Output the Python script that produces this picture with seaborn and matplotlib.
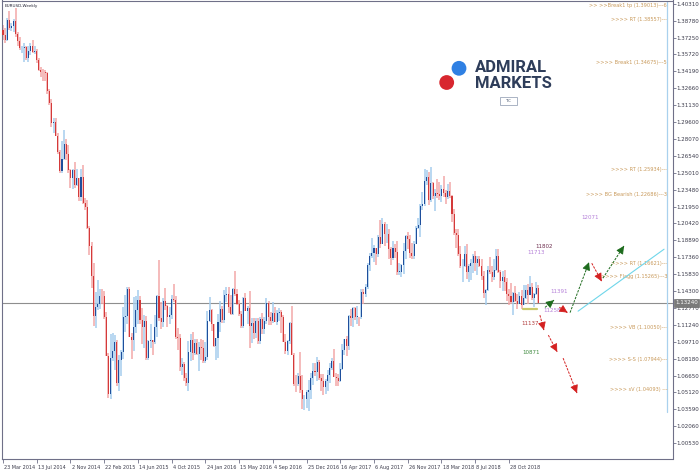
import numpy as np
import pandas as pd
import matplotlib
matplotlib.use("Agg")
import matplotlib.pyplot as plt
import matplotlib.transforms as mtransforms
from matplotlib.patches import Circle, Rectangle
import seaborn as sns

# ---------------- data (weekly EURUSD, week of 23 Mar 2014 onward) ----------------
first_open = 1.3790
closes = [
 1.3751,1.3704,1.3888,1.3813,1.3831,1.3870,1.3755,1.3697,1.3627,1.3634,
 1.3642,1.3540,1.3606,1.3645,1.3595,1.3606,1.3525,1.3429,1.3414,1.3413,
 1.3402,1.3240,1.3132,1.2951,1.2962,1.2835,1.2685,1.2519,1.2628,1.2760,
 1.2670,1.2525,1.2456,1.2526,1.2390,1.2451,1.2284,1.2464,1.2226,1.2190,
 1.2000,1.1842,1.1567,1.1204,1.1290,1.1317,1.1387,1.1381,1.1196,1.0844,
 1.0497,1.0821,1.0891,1.0970,1.0600,1.0806,1.0874,1.1198,1.1200,1.1447,
 1.1016,1.0988,1.1109,1.1262,1.1349,1.1166,1.1106,1.1163,1.0827,1.0982,
 1.0983,1.0970,1.1105,1.1386,1.1183,1.1146,1.1339,1.1299,1.1193,1.1209,
 1.1358,1.1348,1.1017,1.1005,1.0741,1.0771,1.0647,1.0594,1.0883,1.0988,
 1.0867,1.0964,1.0860,1.0928,1.0916,1.0795,1.0831,1.1156,1.1255,1.1130,
 1.0933,1.1002,1.1154,1.1267,1.1167,1.1393,1.1400,1.1283,1.1224,1.1453,
 1.1405,1.1309,1.1222,1.1115,1.1368,1.1253,1.1278,1.1115,1.1137,1.1050,
 1.1162,1.0974,1.1174,1.1086,1.1161,1.1324,1.1197,1.1156,1.1233,1.1153,
 1.1229,1.1240,1.1199,1.0972,1.0887,1.0982,1.1142,1.0850,1.0588,1.0587,
 1.0662,1.0534,1.0449,1.0454,1.0517,1.0531,1.0643,1.0702,1.0698,1.0785,
 1.0642,1.0615,1.0562,1.0620,1.0671,1.0734,1.0797,1.0652,1.0640,1.0615,
 1.0726,1.0896,1.0998,1.0933,1.1206,1.1183,1.1280,1.1196,1.1197,1.1195,
 1.1425,1.1399,1.1470,1.1664,1.1751,1.1774,1.1821,1.1761,1.1923,1.1859,
 1.2036,1.1945,1.1951,1.1815,1.1731,1.1822,1.1785,1.1607,1.1607,1.1665,
 1.1793,1.1931,1.1897,1.1775,1.1748,1.1859,1.2005,1.2030,1.2200,1.2220,
 1.2427,1.2461,1.2254,1.2405,1.2295,1.2317,1.2307,1.2288,1.2354,1.2322,
 1.2282,1.2332,1.2288,1.2130,1.1960,1.1940,1.1770,1.1655,1.1658,1.1768,
 1.1605,1.1655,1.1684,1.1746,1.1685,1.1719,1.1657,1.1568,1.1410,1.1439,
 1.1622,1.1600,1.1553,1.1625,1.1747,1.1604,1.1524,1.1560,1.1510,1.1403,
 1.1387,1.1335,1.1415,1.1339,1.1314,1.1386,1.1306,1.1370,1.1440,1.1397,
 1.1468,1.1364,1.1407,1.1455,1.1324]
highs = [
 1.3836,1.3811,1.3906,1.3966,1.3855,1.3889,1.3993,1.3774,1.3733,1.3651,
 1.3677,1.3651,1.3644,1.3679,1.3700,1.3649,1.3617,1.3536,1.3454,1.3444,
 1.3434,1.3415,1.3258,1.3164,1.2996,1.3000,1.2858,1.2707,1.2791,1.2887,
 1.2810,1.2749,1.2536,1.2532,1.2600,1.2531,1.2457,1.2532,1.2570,1.2273,
 1.2250,1.2023,1.1870,1.1680,1.1423,1.1534,1.1452,1.1450,1.1428,1.1243,
 1.0872,1.1043,1.1052,1.1033,1.0987,1.0849,1.0900,1.1290,1.1391,1.1467,
 1.1467,1.1053,1.1380,1.1385,1.1436,1.1387,1.1278,1.1216,1.1202,1.0986,
 1.1128,1.0988,1.1214,1.1398,1.1714,1.1331,1.1369,1.1460,1.1300,1.1286,
 1.1394,1.1495,1.1386,1.1098,1.1043,1.0826,1.0790,1.0690,1.0981,1.1043,
 1.1060,1.0993,1.0994,1.0971,1.0993,1.0986,1.0967,1.1246,1.1376,1.1265,
 1.1131,1.1008,1.1218,1.1342,1.1296,1.1438,1.1465,1.1464,1.1398,1.1462,
 1.1616,1.1446,1.1349,1.1246,1.1375,1.1416,1.1298,1.1427,1.1186,1.1185,
 1.1185,1.1185,1.1198,1.1234,1.1191,1.1366,1.1343,1.1238,1.1327,1.1284,
 1.1257,1.1278,1.1258,1.1215,1.1041,1.0988,1.1146,1.1299,1.0870,1.0667,
 1.0690,1.0874,1.0669,1.0488,1.0533,1.0622,1.0684,1.0775,1.0775,1.0829,
 1.0804,1.0679,1.0678,1.0635,1.0714,1.0783,1.0822,1.0906,1.0692,1.0678,
 1.0777,1.0948,1.0998,1.1023,1.1210,1.1268,1.1284,1.1285,1.1296,1.1199,
 1.1445,1.1446,1.1490,1.1682,1.1777,1.1910,1.1845,1.1822,1.1940,1.2070,
 1.2092,1.2059,1.2037,1.1990,1.1832,1.1880,1.1860,1.1880,1.1687,1.1673,
 1.1862,1.1936,1.1961,1.1939,1.1862,1.1880,1.2023,1.2089,1.2219,1.2323,
 1.2537,1.2523,1.2507,1.2555,1.2415,1.2354,1.2446,1.2413,1.2388,1.2476,
 1.2345,1.2396,1.2414,1.2300,1.2170,1.1996,1.1995,1.1834,1.1720,1.1840,
 1.1853,1.1675,1.1720,1.1764,1.1791,1.1745,1.1750,1.1720,1.1614,1.1445,
 1.1660,1.1734,1.1653,1.1722,1.1815,1.1815,1.1625,1.1609,1.1622,1.1547,
 1.1450,1.1500,1.1421,1.1472,1.1401,1.1419,1.1442,1.1486,1.1484,1.1497,
 1.1570,1.1500,1.1413,1.1514,1.1488]
lows = [
 1.3705,1.3672,1.3697,1.3792,1.3786,1.3771,1.3731,1.3648,1.3615,1.3586,
 1.3502,1.3524,1.3505,1.3565,1.3589,1.3573,1.3491,1.3422,1.3366,1.3333,
 1.3332,1.3218,1.3116,1.2919,1.2860,1.2834,1.2667,1.2500,1.2502,1.2613,
 1.2614,1.2495,1.2359,1.2358,1.2359,1.2385,1.2247,1.2246,1.2219,1.2162,
 1.1992,1.1753,1.1460,1.1114,1.1098,1.1261,1.1270,1.1315,1.1177,1.0839,
 1.0462,1.0457,1.0800,1.0712,1.0568,1.0521,1.0661,1.0818,1.1064,1.1130,
 1.1016,1.0819,1.0887,1.1049,1.1134,1.1133,1.0955,1.0916,1.0808,1.0808,
 1.0916,1.0848,1.0953,1.1016,1.1157,1.1087,1.1107,1.1255,1.1104,1.1136,
 1.1174,1.1329,1.1000,1.0896,1.0705,1.0674,1.0616,1.0567,1.0524,1.0795,
 1.0805,1.0848,1.0849,1.0711,1.0804,1.0778,1.0775,1.0806,1.1154,1.1067,
 1.0925,1.0810,1.0823,1.1058,1.1143,1.1144,1.1327,1.1233,1.1217,1.1217,
 1.1384,1.1304,1.1200,1.1097,1.1098,1.1246,1.1131,1.0912,1.0957,1.1000,
 1.1002,1.0952,1.0952,1.1045,1.1044,1.1132,1.1123,1.1123,1.1143,1.1150,
 1.1122,1.1160,1.1048,1.0966,1.0858,1.0851,1.0951,1.0850,1.0569,1.0518,
 1.0567,1.0506,1.0366,1.0352,1.0374,1.0340,1.0454,1.0576,1.0660,1.0617,
 1.0621,1.0521,1.0493,1.0494,1.0524,1.0600,1.0715,1.0650,1.0569,1.0570,
 1.0603,1.0720,1.0851,1.0839,1.0899,1.1110,1.1109,1.1168,1.1132,1.1118,
 1.1175,1.1313,1.1372,1.1446,1.1612,1.1729,1.1689,1.1662,1.1734,1.1823,
 1.1857,1.1838,1.1862,1.1717,1.1669,1.1710,1.1730,1.1574,1.1574,1.1554,
 1.1589,1.1718,1.1811,1.1729,1.1718,1.1719,1.1853,1.1996,1.1915,1.2164,
 1.2198,1.2387,1.2205,1.2240,1.2260,1.2154,1.2273,1.2258,1.2240,1.2280,
 1.2215,1.2260,1.2276,1.2055,1.1937,1.1823,1.1750,1.1640,1.1510,1.1645,
 1.1540,1.1508,1.1528,1.1591,1.1613,1.1576,1.1646,1.1530,1.1365,1.1301,
 1.1428,1.1586,1.1510,1.1526,1.1613,1.1595,1.1461,1.1432,1.1433,1.1336,
 1.1302,1.1316,1.1216,1.1334,1.1267,1.1310,1.1269,1.1301,1.1354,1.1309,
 1.1397,1.1353,1.1289,1.1390,1.1322]

xtick_weeks = [0, 16, 32, 48, 64, 80, 96, 112, 128, 144, 160, 176, 192, 208, 224, 240]
xtick_labels = ["23 Mar 2014", "13 Jul 2014", "2 Nov 2014", "22 Feb 2015", "14 Jun 2015",
                "4 Oct 2015", "24 Jan 2016", "15 May 2016", "4 Sep 2016", "25 Dec 2016",
                "16 Apr 2017", "6 Aug 2017", "26 Nov 2017", "18 Mar 2018", "8 Jul 2018",
                "28 Oct 2018"]
ytick_values = [1.40310, 1.38780, 1.37250, 1.35720, 1.34190, 1.32660, 1.31130, 1.29600,
                1.28070, 1.26540, 1.25010, 1.23480, 1.21950, 1.20420, 1.18890, 1.17360,
                1.15830, 1.14300, 1.12770, 1.11240, 1.09710, 1.08180, 1.06650, 1.05120,
                1.03590, 1.02060, 1.00530]

# level labels on the right side
level_texts = [">> >>Break1 tp (1.39013)---6", ">>>> RT (1.38557)---", ">>>> Break1 (1.34675)---5",
               ">>>> RT (1.25934)---", ">>>> BG Bearish (1.22686)---3", ">>>> RT (1.16621)---",
               ">>>> Flagg (1.15265)---3", ">>>> VB (1.10050)---", ">>>> S-S (1.07944)---",
               ">>>> sV (1.04093) ---"]
level_prices = [1.4015, 1.3885, 1.3497, 1.2532, 1.2306, 1.1682, 1.1558, 1.1104, 1.0815, 1.0535]

# projection numbers
num_texts = ["11802", "11713", "11391", "11258", "11137", "10871", "12071"]
num_x = [256.9, 252.9, 264.0, 260.7, 250.0, 250.5, 278.7]
num_y = [1.1830, 1.1775, 1.1423, 1.1257, 1.1137, 1.0878, 1.2092]
num_colors = ["#6e2f4f", "#b47fd8", "#b47fd8", "#b47fd8", "#b03a3a", "#3f8a3f", "#b47fd8"]

# projection arrows (week index / price)
arr_x0 = [257.1, 263.9, 269.0, 279.3, 284.6, 254.7, 258.7, 265.7]
arr_y0 = [1.1282, 1.1284, 1.1235, 1.1682, 1.1547, 1.1212, 1.1031, 1.0823]
arr_x1 = [261.4, 267.8, 278.0, 284.0, 294.6, 256.6, 262.9, 272.3]
arr_y1 = [1.1348, 1.1235, 1.1691, 1.1519, 1.1839, 1.1077, 1.0880, 1.0507]
arr_colors = ["#1d6b1d", "#d42020", "#1d6b1d", "#d42020", "#1d6b1d", "#d42020", "#d42020", "#d42020"]
cyan_x = [272.8, 313.6]
cyan_y = [1.1248, 1.1809]
support_x = [246.7, 253.3]
support_y = [1.1266, 1.1266]

# ---------------- build frame ----------------
df = pd.DataFrame({"close": closes, "high": highs, "low": lows})
df["week"] = np.arange(len(df))
df["open"] = [first_open] + closes[:-1]
df["high"] = df[["high", "open", "close"]].max(axis=1)
df["low"] = df[["low", "open", "close"]].min(axis=1)
df["bull"] = df["close"] >= df["open"]

sns.set_theme(style="white")
plt.rcParams["font.family"] = ["DejaVu Sans"]

fig = plt.figure(figsize=(7.0, 4.71), dpi=100)
fig.patch.set_facecolor("white")
ax = fig.add_axes([2/700, 1-459/471, (672.5-2)/700, (459-0.5)/471])
ax.set_facecolor("white")
frame_col = "#6f7088"
for s in ax.spines.values():
    s.set_color(frame_col)
    s.set_linewidth(0.8)

wick_col = np.where(df["bull"], "#a6cdee", "#f3a8a8")
body_col = np.where(df["bull"], "#1f4f9c", "#d43a3a")
ax.vlines(df["week"], df["low"], df["high"], colors=wick_col, linewidth=1.1, zorder=2)
body_h = (df["close"] - df["open"]).abs().clip(lower=0.0004)
ax.bar(df["week"], body_h, bottom=df[["open", "close"]].min(axis=1), width=0.5,
       color=body_col, linewidth=0, zorder=3)

last = closes[-1]
ax.axhline(last, color="#8e8e8e", linewidth=0.8, zorder=1)

ax.set_xlim(-0.47, 317.6)
ax.set_ylim(0.9910, 1.4060)

# y axis on the right
ax.yaxis.tick_right()
ax.set_yticks(ytick_values)
ax.set_yticklabels([f"{v:.5f}" for v in ytick_values])
ax.tick_params(axis="y", direction="out", length=2, width=0.6, colors=frame_col,
               labelsize=4.0, labelcolor="#3a3a4a", pad=0.6, right=True, left=False)
ax.set_xticks(xtick_weeks)
ax.set_xticklabels(xtick_labels)
ax.tick_params(axis="x", direction="out", length=3, width=0.6, colors=frame_col,
               labelsize=3.5, labelcolor="#3a3a4a", pad=1.2, bottom=True)
offset = mtransforms.ScaledTranslation(1.2/100, 0, fig.dpi_scale_trans)
for lab in ax.get_xticklabels():
    lab.set_horizontalalignment("left")
    lab.set_transform(lab.get_transform() + offset)

# light blue vertical marker line
ax.plot([315.0, 315.0], [1.4060, 1.0335], color="#a9d1ee", linewidth=0.9, zorder=1)

# current price box
trans_y = mtransforms.blended_transform_factory(ax.transAxes, ax.transData)
ax.text(1.004, last, f"{last:.5f}", transform=trans_y, fontsize=4.0, color="white",
        va="center", ha="left", zorder=10, clip_on=False,
        bbox=dict(boxstyle="square,pad=0.25", facecolor="#7a7a7a", edgecolor="#5a5a5a", linewidth=0.4))

# title text
ax.text(0.004, 0.992, "EURUSD,Weekly", transform=ax.transAxes, fontsize=3.0,
        color="#222233", va="top", ha="left")

# level texts
for t, p in zip(level_texts, level_prices):
    ax.text(315.0, p, t, fontsize=3.6, color="#c8995a", ha="right", va="center")

# projection numbers
for t, x, y, c in zip(num_texts, num_x, num_y, num_colors):
    ax.text(x, y, t, fontsize=4.0, color=c, ha="center", va="center")

# support line
ax.plot(support_x, support_y, color="#c9c96a", linewidth=1.6, zorder=4)
# cyan line
ax.plot(cyan_x, cyan_y, color="#6fd6ea", linewidth=0.8, zorder=4)

# dashed arrows
for x0, y0, x1, y1, c in zip(arr_x0, arr_y0, arr_x1, arr_y1, arr_colors):
    ax.plot([x0, x1], [y0, y1], color=c, linewidth=0.7, linestyle=(0, (2.5, 1.2)), zorder=5)
    ax.annotate("", xy=(x1, y1), xytext=(x1 - 0.08*(x1-x0), y1 - 0.08*(y1-y0)),
                arrowprops=dict(arrowstyle="-|>,head_length=0.4,head_width=0.2",
                                color=c, lw=0.6, shrinkA=0, shrinkB=0), zorder=6)

# logo
fig.add_artist(Circle((459/100, (471-68.3)/100), 0.074, transform=fig.dpi_scale_trans,
                      facecolor="#2f80e3", edgecolor="none"))
fig.add_artist(Circle((446.7/100, (471-82.5)/100), 0.074, transform=fig.dpi_scale_trans,
                      facecolor="#d8272f", edgecolor="none"))
fig.text(475/700, 1-67.5/471, "ADMIRAL", fontsize=12, fontweight="bold", color="#2e3d5a",
         ha="left", va="center", family=["Roboto", "DejaVu Sans"])
fig.text(475/700, 1-83.5/471, "MARKETS", fontsize=12, fontweight="bold", color="#2e3d5a",
         ha="left", va="center", family=["Roboto", "DejaVu Sans"])
fig.add_artist(Rectangle((500/700, 1-105/471), 17/700, 8/471, transform=fig.transFigure,
                         facecolor="white", edgecolor="#8896ad", linewidth=0.5))
fig.text(508.5/700, 1-101/471, "TC", fontsize=2.8, color="#33415c", ha="center", va="center")

fig.savefig("out.png", dpi=100)
